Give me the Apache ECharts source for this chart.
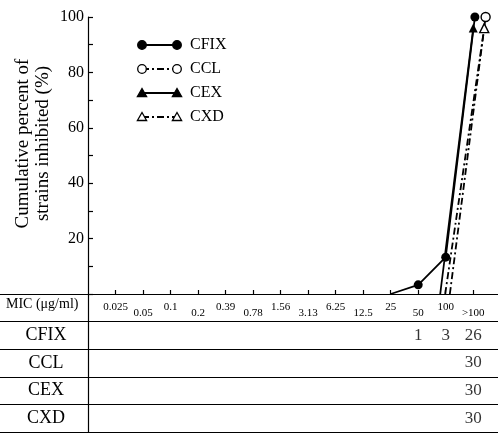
<!DOCTYPE html>
<html><head><meta charset="utf-8">
<script src="https://cdn.jsdelivr.net/npm/echarts@6/dist/echarts.min.js"></script>
<style>html,body{margin:0;padding:0;background:#fff}#c{width:498px;height:433px}</style>
</head><body><div id="c"></div>
<script>
// ---- data ----
const categories = ['0.025','0.05','0.1','0.2','0.39','0.78','1.56','3.13','6.25','12.5','25','50','100','>100'];
const yTickLabels = [20, 40, 60, 80, 100];
const seriesNames = ['CFIX', 'CCL', 'CEX', 'CXD'];
// [MIC category position (as drawn), cumulative % inhibited]
const cfixPoints = [[10, 0], [11, 3.3], [12, 13.3], [13.06, 100]];
const cclPoints  = [[12.15, 0], [13.45, 100]];
const cexPoints  = [[11.8, 0], [13.0, 96]];
const cxdPoints  = [[11.98, 0], [13.4, 96]];
const tableRows = ['MIC (μg/ml)', 'CFIX', 'CCL', 'CEX', 'CXD'];
// [MIC category index, number of strains]
const cfixCounts = [[11, 1], [12, 3], [13, 26]];
const cclCounts  = [[13, 30]];
const cexCounts  = [[13, 30]];
const cxdCounts  = [[13, 30]];

// ---- styles ----
const FONT = '"Liberation Serif", "DejaVu Serif", serif';
const DASHDOT = [7, 3, 2, 3];
const styleOf = {
  CFIX: {shape: 'circle', fill: '#000', dash: 'solid'},
  CCL:  {shape: 'circle', fill: '#fff', dash: DASHDOT},
  CEX:  {shape: 'triangle', fill: '#000', dash: 'solid'},
  CXD:  {shape: 'triangle', fill: '#fff', dash: DASHDOT}
};
const pointsOf = {CFIX: cfixPoints, CCL: cclPoints, CEX: cexPoints, CXD: cxdPoints};
const countsOf = {CFIX: cfixCounts, CCL: cclCounts, CEX: cexCounts, CXD: cxdCounts};
const tickIdx = categories.map((c, i) => i);

const lineSeries = seriesNames.map(name => {
  const st = styleOf[name];
  return {
    name, type: 'line', xAxisIndex: 0, yAxisIndex: 0,
    data: pointsOf[name],
    symbol: v => (v[1] > 0 ? st.shape : 'none'),
    symbolSize: 9,
    showSymbol: true,
    itemStyle: {color: st.fill, borderColor: '#000', borderWidth: st.fill === '#fff' ? 1.4 : 0},
    lineStyle: {color: '#000', width: 1.8, type: st.dash},
    clip: false,
    z: 3
  };
});

const countData = [];
seriesNames.forEach(name => countsOf[name].forEach(d => countData.push([d[0], name, d[1]])));

const countSeries = {
  type: 'scatter', xAxisIndex: 1, yAxisIndex: 1,
  data: countData, symbolSize: 1,
  itemStyle: {color: 'rgba(0,0,0,0)'},
  label: {show: true, position: 'inside', formatter: p => String(p.value[2]),
          fontFamily: FONT, fontSize: 17, color: '#000'},
  silent: true
};

// legend drawn as graphic (line with markers at both ends)
const legendGraphic = [];
seriesNames.forEach((name, i) => {
  const st = styleOf[name];
  const y = 45 + i * 24, x1 = 142, x2 = 177;
  legendGraphic.push({type: 'line', shape: {x1, y1: y, x2, y2: y},
    style: {stroke: '#000', lineWidth: 1.8, lineDash: st.dash === 'solid' ? null : DASHDOT}});
  [x1, x2].forEach(cx => {
    if (st.shape === 'circle') {
      legendGraphic.push({type: 'circle', shape: {cx, cy: y, r: 4.3},
        style: {fill: st.fill, stroke: '#000', lineWidth: 1.3}, z: 2});
    } else {
      legendGraphic.push({type: 'polygon',
        shape: {points: [[cx, y - 4.5], [cx - 4.6, y + 3.5], [cx + 4.6, y + 3.5]]},
        style: {fill: st.fill, stroke: '#000', lineWidth: 1.3}, z: 2});
    }
  });
  legendGraphic.push({type: 'text', x: 190, y,
    style: {text: name, font: '16px ' + FONT, fill: '#000', verticalAlign: 'middle', align: 'left'}});
});

const option = {
  animation: false,
  backgroundColor: '#fff',
  textStyle: {fontFamily: FONT, color: '#000'},
  grid: [
    {left: 88, right: 0, top: 17, height: 277},
    {left: 88, right: 0, top: 294, bottom: 1}
  ],
  xAxis: [
    {
      type: 'value', gridIndex: 0, min: -1, max: 13.9,
      axisLine: {show: true, onZero: false, lineStyle: {color: '#000', width: 1.2}},
      axisTick: {show: true, inside: true, length: 4, customValues: tickIdx,
                 lineStyle: {color: '#000', width: 1.2}},
      splitLine: {show: false},
      axisLabel: {
        show: true, margin: 8, customValues: tickIdx,
        formatter: v => {
          const i = Math.round(v);
          const t = categories[i];
          return i % 2 === 0 ? '{u|' + t + '}' : '{d|' + t + '}';
        },
        rich: {
          u: {fontFamily: FONT, fontSize: 11, color: '#000', padding: [0, 0, 0, 0]},
          d: {fontFamily: FONT, fontSize: 11, color: '#000', padding: [6, 0, 0, 0]}
        }
      }
    },
    {type: 'value', gridIndex: 1, min: -1, max: 13.9, show: false}
  ],
  yAxis: [
    {
      type: 'value', gridIndex: 0, min: 0, max: 100, interval: 10,
      name: 'Cumulative percent of\nstrains inhibited (%)',
      nameLocation: 'middle', nameGap: 35, nameMoveOverlap: false,
      nameTextStyle: {fontFamily: FONT, fontSize: 19, lineHeight: 20, color: '#000',
                      padding: [0, 0, 0, 24]},
      axisLine: {show: true, onZero: false, lineStyle: {color: '#000', width: 1.2}},
      axisTick: {show: true, inside: true, length: 5, lineStyle: {color: '#000', width: 1.2}},
      splitLine: {show: false},
      axisLabel: {
        margin: 4, fontFamily: FONT, fontSize: 16, color: '#000',
        formatter: v => (yTickLabels.indexOf(v) >= 0 ? String(v) : '')
      }
    },
    {
      type: 'category', gridIndex: 1, data: tableRows, inverse: true,
      axisLine: {show: true, onZero: false, lineStyle: {color: '#000', width: 1.2}},
      axisTick: {show: true, length: 88, interval: 0, lineStyle: {color: '#000', width: 1.2}},
      splitLine: {show: true, interval: 0, lineStyle: {color: '#000', width: 1.2}},
      axisLabel: {
        margin: 42, align: 'center', interval: 0,
        formatter: v => (v === tableRows[0] ? '{m|' + v + '}' : '{r|' + v + '}'),
        rich: {
          m: {fontFamily: FONT, fontSize: 14, color: '#000', width: 80, align: 'left',
              padding: [0, 0, 6, 0]},
          r: {fontFamily: FONT, fontSize: 18, color: '#000'}
        }
      }
    }
  ],
  graphic: legendGraphic,
  series: lineSeries.concat([countSeries])
};

const chart = echarts.init(document.getElementById('c'), null, {renderer: 'canvas'});
chart.setOption(option);
</script>
</body></html>
